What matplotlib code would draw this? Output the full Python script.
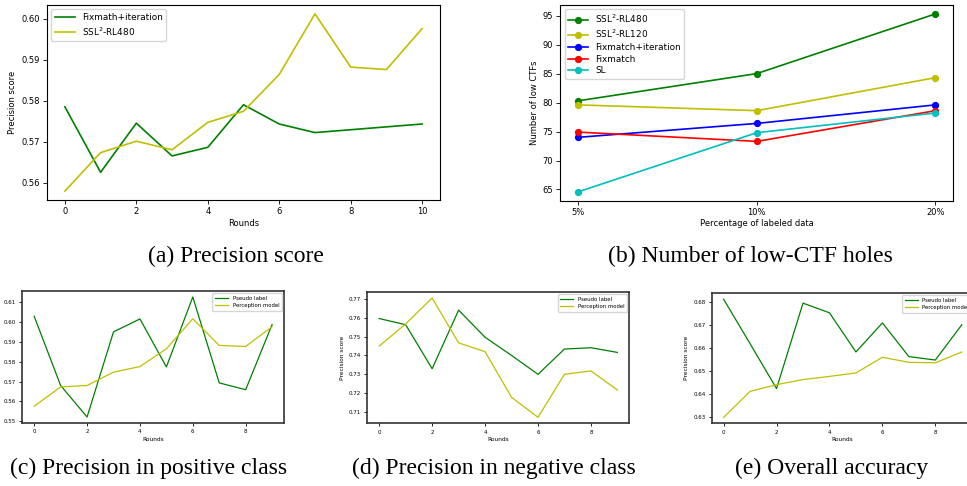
import matplotlib
matplotlib.use("Agg")
import matplotlib.pyplot as plt
import numpy as np

# ---------------- data ----------------
rounds_a = list(range(11))
fixmatch_iter_a = [0.5785, 0.5625, 0.5745, 0.5665, 0.5686, 0.5790, 0.5743, 0.5722, 0.5729, 0.5736, 0.5743]
ssl2_rl480_a = [0.5579, 0.5673, 0.5701, 0.5680, 0.5747, 0.5774, 0.5864, 0.6012, 0.5882, 0.5876, 0.5976]

pct_labels = ["5%", "10%", "20%"]
b_ssl2_rl480 = [80.3, 85.0, 95.3]
b_ssl2_rl120 = [79.6, 78.6, 84.3]
b_fixmatch_iter = [74.0, 76.4, 79.6]
b_fixmatch = [74.9, 73.3, 78.6]
b_sl = [64.6, 74.8, 78.2]

rounds_b = list(range(10))
c_pseudo = [0.6027, 0.5680, 0.5522, 0.5949, 0.6014, 0.5773, 0.6124, 0.5693, 0.5659, 0.5986]
c_percep = [0.5576, 0.5673, 0.5680, 0.5747, 0.5775, 0.5864, 0.6015, 0.5881, 0.5876, 0.5975]

d_pseudo = [0.7597, 0.7564, 0.7329, 0.7642, 0.7497, 0.7400, 0.7299, 0.7434, 0.7441, 0.7416]
d_percep = [0.7450, 0.7568, 0.7707, 0.7467, 0.7420, 0.7176, 0.7069, 0.7299, 0.7317, 0.7215]

e_pseudo = [0.6813, 0.6620, 0.6425, 0.6796, 0.6754, 0.6584, 0.6710, 0.6564, 0.6549, 0.6702]
e_percep = [0.6300, 0.6413, 0.6442, 0.6464, 0.6478, 0.6493, 0.6561, 0.6539, 0.6537, 0.6584]

captions = ["(a) Precision score", "(b) Number of low-CTF holes",
            "(c) Precision in positive class", "(d) Precision in negative class",
            "(e) Overall accuracy"]

# ---------------- figure ----------------
W, H = 967, 486
fig = plt.figure(figsize=(W / 100, H / 100), dpi=100)


def ax_px(left, right, top, bottom):
    return fig.add_axes([left / W, 1 - bottom / H, (right - left) / W, (bottom - top) / H])


top_fs = 6.0
bot_fs = 4.0

# (a)
ax = ax_px(47, 440, 5, 200)
ax.plot(rounds_a, fixmatch_iter_a, color="g", lw=1.2, label="Fixmath+iteration")
ax.plot(rounds_a, ssl2_rl480_a, color="y", lw=1.2, label="SSL$^2$-RL480")
ax.set_xlabel("Rounds", fontsize=top_fs, labelpad=2)
ax.set_ylabel("Precision score", fontsize=top_fs, labelpad=3)
ax.set_yticks([0.56, 0.57, 0.58, 0.59, 0.60])
ax.tick_params(labelsize=top_fs, length=3, width=0.6, pad=2)
ax.legend(loc="upper left", fontsize=6.4, handlelength=2.2, borderpad=0.4, labelspacing=0.35)
for s in ax.spines.values():
    s.set_linewidth(0.8)

# (b)
ax = ax_px(560.3, 953.3, 5, 200.7)
x = np.arange(len(pct_labels))
for vals, col, lab in [(b_ssl2_rl480, "g", "SSL$^2$-RL480"),
                       (b_ssl2_rl120, "y", "SSL$^2$-RL120"),
                       (b_fixmatch_iter, "b", "Fixmatch+iteration"),
                       (b_fixmatch, "r", "Fixmatch"),
                       (b_sl, "c", "SL")]:
    ax.plot(x, vals, color=col, marker="o", ms=4.2, lw=1.2, label=lab)
ax.set_xticks(x)
ax.set_xticklabels(pct_labels)
ax.set_yticks([65, 70, 75, 80, 85, 90, 95])
ax.set_xlabel("Percentage of labeled data", fontsize=top_fs, labelpad=2)
ax.set_ylabel("Number of low CTFs", fontsize=top_fs, labelpad=3)
ax.tick_params(labelsize=top_fs, length=3, width=0.6, pad=2)
ax.legend(loc="upper left", fontsize=6.4, handlelength=2.2, borderpad=0.4, labelspacing=0.3)
for s in ax.spines.values():
    s.set_linewidth(0.8)

# bottom row
bottom_specs = [
    ((22.3, 284, 291, 423), c_pseudo, c_percep),
    ((367.3, 629.3, 292, 423.3), d_pseudo, d_percep),
    ((711.7, 973.7, 293.3, 423.3), e_pseudo, e_percep),
]
for (l, r, t, b), p1, p2 in bottom_specs:
    ax = ax_px(l, r, t, b)
    ax.plot(rounds_b, p1, color="g", lw=0.9, label="Pseudo label")
    ax.plot(rounds_b, p2, color="y", lw=0.9, label="Perception model")
    ax.set_xticks([0, 2, 4, 6, 8])
    ax.set_xlabel("Rounds", fontsize=4.2, labelpad=2)
    ax.set_ylabel("Precision score", fontsize=4.2, labelpad=3)
    ax.tick_params(labelsize=bot_fs, length=2.5, width=0.6, pad=2)
    ax.legend(loc="upper right", fontsize=3.9, handlelength=2.4, borderpad=0.5,
              labelspacing=0.4, borderaxespad=0.4)
    for s in ax.spines.values():
        s.set_linewidth(1.2)
        s.set_color("#333333")

# captions
cap_pos = [(236, 256), (750, 256), (149, 468), (494, 468), (832, 468)]
for txt, (cx, cy) in zip(captions, cap_pos):
    fig.text(cx / W, 1 - cy / H, txt, ha="center", va="center",
             fontsize=17, family="Liberation Serif")

fig.savefig("out.png", dpi=100)
